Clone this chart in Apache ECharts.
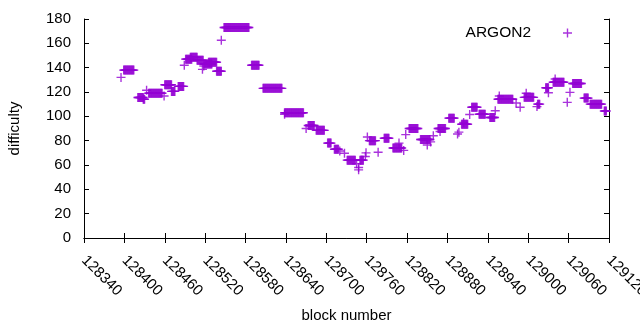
<!DOCTYPE html>
<html>
<head>
<meta charset="utf-8">
<script src="https://cdn.jsdelivr.net/npm/echarts@6/dist/echarts.min.js"></script>
<style>
  html, body { margin: 0; padding: 0; background: #fff; }
  #chart { width: 640px; height: 330px; }
</style>
</head>
<body>
<div id="chart"></div>
<script>
// runs of blocks with the same difficulty (first block, last block, value)
var runStart = [128395, 128399, 128420, 128428, 128433, 128436, 128459, 128460, 128470, 128480,
  128489, 128491, 128498, 128508, 128516, 128518, 128518, 128525, 128537, 128544,
  128548, 128589, 128606, 128638, 128638, 128670, 128673, 128685, 128702, 128712,
  128720, 128727, 128731, 128745, 128748, 128748, 128750, 128758, 128759, 128761,
  128764, 128777, 128786, 128799, 128808, 128815, 128818, 128823, 128840, 128850,
  128855, 128859, 128866, 128869, 128882, 128895, 128897, 128901, 128904, 128913,
  128916, 128927, 128943, 128951, 128955, 128957, 128982, 128988, 128994, 128997,
  129013, 129014, 129026, 129030, 129037, 129040, 129058, 129062, 129066, 129083,
  129092, 129113];
var runEnd = [128395, 128414, 128428, 128430, 128433, 128456, 128459, 128470, 128475, 128488,
  128489, 128500, 128508, 128517, 128516, 128518, 128530, 128537, 128544, 128544,
  128585, 128600, 128634, 128638, 128666, 128670, 128682, 128697, 128707, 128718,
  128720, 128727, 128743, 128745, 128748, 128748, 128755, 128758, 128759, 128761,
  128773, 128777, 128793, 128812, 128808, 128815, 128818, 128836, 128854, 128850,
  128855, 128859, 128877, 128869, 128890, 128895, 128897, 128910, 128904, 128913,
  128924, 128936, 128950, 128951, 128977, 128957, 128982, 128988, 129008, 128997,
  129013, 129017, 129030, 129030, 129053, 129040, 129058, 129062, 129079, 129089,
  129109, 129116];
var runValue = [132, 138, 115.5, 114, 121.5, 119, 116.7, 126, 120.5, 124.6,
  142, 147, 148.5, 146, 138.6, 141.4, 143, 144.5, 137, 162.5,
  173, 142, 123, 101.7, 103, 90, 92.5, 88.5, 78, 73,
  71.5, 69.6, 64, 61, 58, 56, 64, 67, 70, 83,
  80, 70.5, 82, 74, 78, 72, 85, 90, 81, 76.5,
  79, 84, 90, 87.5, 98.5, 85.5, 87, 93.5, 95, 101.5,
  107.5, 101.7, 99, 104.6, 114, 116.7, 111, 107.5, 115.6, 119,
  108, 110, 123.5, 119.4, 128, 130.7, 111.5, 119.7, 127, 115,
  110, 104.4];

var xMin = 128340, xMax = 129120, xStep = 60;
var yMin = 0, yMax = 180, yStep = 20;

var points = [];
for (var i = 0; i < runStart.length; i++) {
  for (var b = runStart[i]; b <= runEnd[i]; b++) {
    points.push([b, runValue[i]]);
  }
}

var plus = 'path://M3.8,0h1.4v3.8h3.8v1.4h-3.8v3.8h-1.4v-3.8h-3.8v-1.4h3.8z';
var font = 'Liberation Sans';

var chart = echarts.init(document.getElementById('chart'));
chart.setOption({
  animation: false,
  backgroundColor: '#fff',
  textStyle: { fontFamily: font },
  grid: { left: 84, right: 31, top: 19, bottom: 92, containLabel: false, outerBoundsMode: 'none' },
  legend: {
    data: ['ARGON2'],
    right: 68,
    top: 25,
    padding: 0,
    align: 'right',
    icon: plus,
    itemWidth: 9,
    itemHeight: 9,
    textStyle: { fontFamily: font, fontSize: 15.5, color: '#000', padding: [0, 27, 0, 0] }
  },
  xAxis: [{
    type: 'value',
    min: xMin, max: xMax, interval: xStep,
    name: 'block number',
    nameLocation: 'middle',
    nameGap: 70,
    nameTextStyle: { fontFamily: font, fontSize: 15, color: '#000' },
    axisLine: { lineStyle: { color: '#000', width: 1 } },
    axisTick: { inside: true, length: 5, lineStyle: { color: '#000' } },
    axisLabel: {
      rotate: -45, margin: 20, fontFamily: font, fontSize: 15, color: '#000',
      formatter: function (v) { return String(v); }
    },
    splitLine: { show: false }
  }, {
    type: 'value', position: 'top',
    min: xMin, max: xMax, interval: xStep,
    axisLine: { lineStyle: { color: '#000', width: 1 } },
    axisTick: { inside: true, length: 5, lineStyle: { color: '#000' } },
    axisLabel: { show: false },
    splitLine: { show: false }
  }],
  yAxis: [{
    type: 'value',
    min: yMin, max: yMax, interval: yStep,
    name: 'difficulty',
    nameLocation: 'middle',
    nameGap: 62,
    nameTextStyle: { fontFamily: font, fontSize: 15, color: '#000' },
    axisLine: { show: true, lineStyle: { color: '#000', width: 1 } },
    axisTick: { show: true, inside: true, length: 5, lineStyle: { color: '#000' } },
    axisLabel: { margin: 13, fontFamily: font, fontSize: 15, color: '#000' },
    splitLine: { show: false }
  }, {
    type: 'value', position: 'right',
    min: yMin, max: yMax, interval: yStep,
    axisLine: { show: true, lineStyle: { color: '#000', width: 1 } },
    axisTick: { show: true, inside: true, length: 5, lineStyle: { color: '#000' } },
    axisLabel: { show: false },
    splitLine: { show: false }
  }],
  series: [{
    name: 'ARGON2',
    type: 'scatter',
    symbol: plus,
    symbolSize: 9,
    itemStyle: { color: '#9400d3' },
    data: points
  }]
});
</script>
</body>
</html>
